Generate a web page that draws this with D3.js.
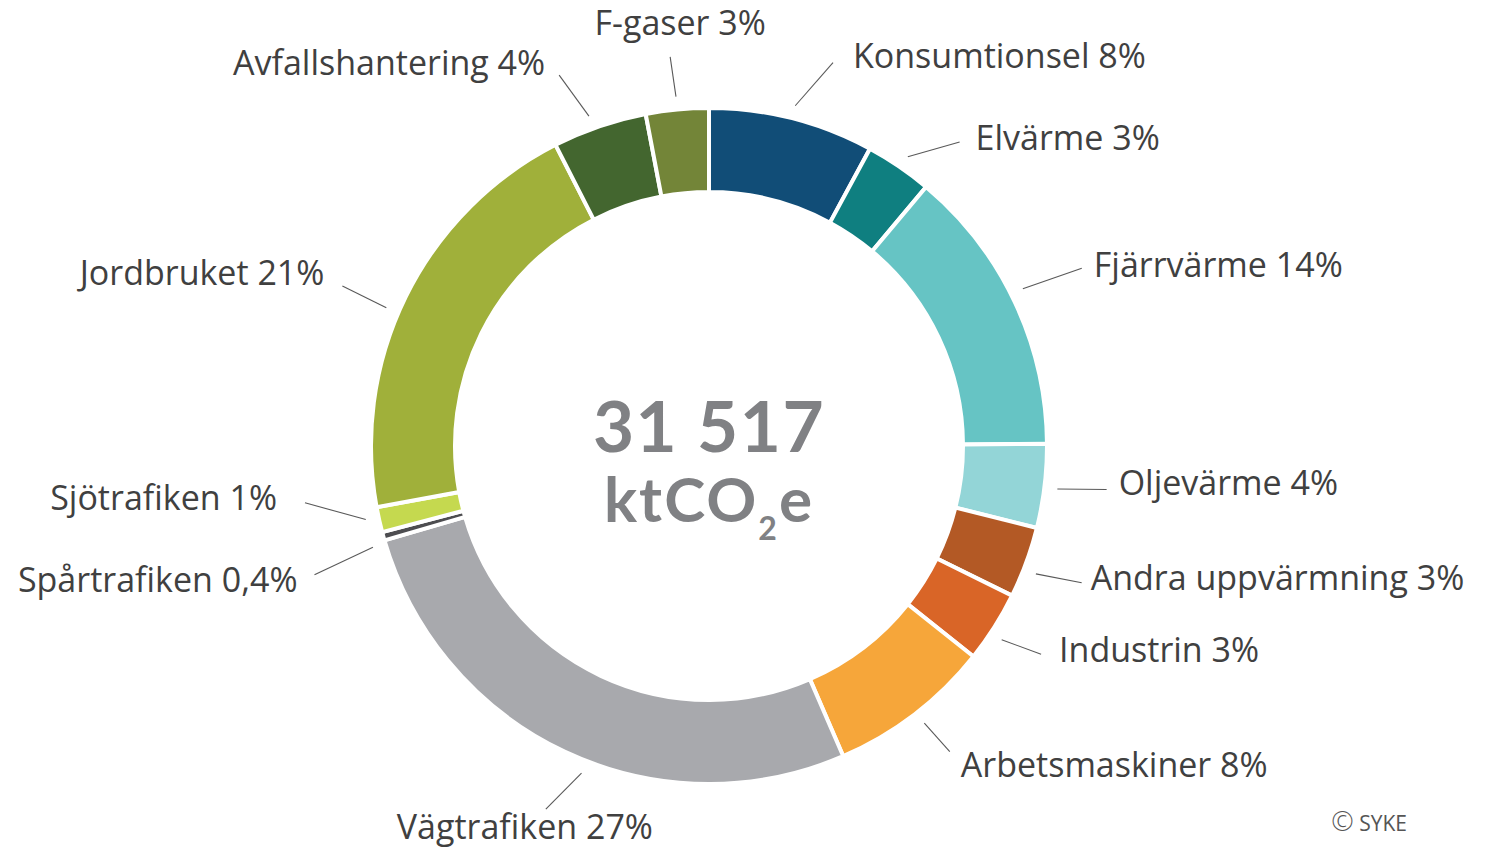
<!DOCTYPE html>
<html><head><meta charset="utf-8">
<script src="https://cdn.jsdelivr.net/npm/d3@7"></script>
<style>
html,body{margin:0;padding:0;background:#fff;}
svg{display:block;}
</style></head>
<body>
<svg id="chart" width="1487" height="848"></svg>
<script>
// ---- data ----
const categories = ["Konsumtionsel","Elvärme","Fjärrvärme","Oljevärme","Andra uppvärmning","Industrin","Arbetsmaskiner","Vägtrafiken","Spårtrafiken","Sjötrafiken","Jordbruket","Avfallshantering","F-gaser"];
const values = [7.9, 3.2, 13.8, 4.0, 3.4, 3.4, 7.8, 27.0, 0.4, 1.2, 20.4, 4.5, 3.0];
const percentLabels = ["8%","3%","14%","4%","3%","3%","8%","27%","0,4%","1%","21%","4%","3%"];
const colors = ["#114d77","#0f7f80","#66c4c4","#93d5d7","#b35925","#d96527","#f6a63a","#a8a9ad","#4d4d50","#c5d94f","#a0b03a","#43662f","#738538"];
const totalLabel = "31 517";
const unitMain = "ktCO", unitSub = "2", unitEnd = "e";

// ---- label layout (leader start/end angle nudges in degrees, end radius, text dx, baseline dy, anchor) ----
const leaderStartNudge = [0, 0.3, -1.4, 0.2, 1.2, 1.1, -0.4, -3.9, -1.3, 0.5, -3.1, -1.1, 0];
const leaderEndNudge   = [3.7, 5.3, -0.3, -0.6, 0, -0.3, -0.8, -1.0, -2.6, 4.6, -2.7, -3.1, -0.3];
const leaderEndR       = [403, 394, 413, 400, 397, 392, 389, 398, 415, 408, 400, 400, 391];
const labelDx          = [20, 16, 12, 12, 9, 18, 11, -21, -17, -28, -18, -14, 10];
const labelDy          = [5, 8, 9, 6, 7, 8, 25, 30, 17, 7, -1, 0, -22];
const labelAnchor      = ["start","start","start","start","start","start","start","middle","end","end","end","end","middle"];

const svg = d3.select("#chart");
const cx = 709, cy = 446, rIn = 254, rOut = 338, rLeader = 351;
const g = svg.append("g").attr("transform", `translate(${cx},${cy})`);

const pie = d3.pie().sort(null).value(d => d);
const arcs = pie(values);
const arc = d3.arc().innerRadius(rIn).outerRadius(rOut);

g.selectAll("path.slice").data(arcs).join("path")
  .attr("class","slice")
  .attr("d", arc)
  .attr("fill", (d,i) => colors[i])
  .attr("stroke", "#fff")
  .attr("stroke-width", 4)
  .attr("stroke-linejoin","miter");

const fs = 34;
const rad = Math.PI / 180;
const pt = (a, r) => [Math.sin(a) * r, -Math.cos(a) * r];
arcs.forEach((d, i) => {
  const mid = (d.startAngle + d.endAngle) / 2;
  const s = pt(mid + leaderStartNudge[i] * rad, rLeader);
  const e = pt(mid + leaderEndNudge[i] * rad, leaderEndR[i]);
  g.append("line")
    .attr("x1", s[0]).attr("y1", s[1]).attr("x2", e[0]).attr("y2", e[1])
    .attr("stroke", "#595959").attr("stroke-width", 1.1);
  g.append("text")
    .attr("x", e[0] + labelDx[i]).attr("y", e[1] + labelDy[i])
    .attr("text-anchor", labelAnchor[i])
    .attr("font-family", "'Open Sans', sans-serif")
    .attr("font-size", fs)
    .attr("fill", "#404040")
    .text(categories[i] + " " + percentLabels[i]);
});

// centre text
g.append("text").attr("x", 0).attr("y", 6)
  .attr("text-anchor","middle")
  .attr("font-family","Lato, sans-serif").attr("font-weight", 700)
  .attr("font-size", 71).attr("letter-spacing", 1.5).attr("fill","#808184")
  .text(totalLabel);
const u = g.append("text").attr("x", 0).attr("y", 76)
  .attr("text-anchor","middle")
  .attr("font-family","Lato, sans-serif").attr("font-weight", 700)
  .attr("font-size", 62).attr("letter-spacing", 2).attr("fill","#808184");
u.append("tspan").text(unitMain);
u.append("tspan").attr("font-size", 32).attr("dy", 18).text(unitSub);
u.append("tspan").attr("dy", -18).text(unitEnd);

// credit
const c = svg.append("text").attr("x", 1407).attr("y", 831)
  .attr("text-anchor","end")
  .attr("font-family","'Open Sans', sans-serif")
  .attr("font-size", 21).attr("fill","#555");
c.append("tspan").attr("font-size", 27).attr("font-weight", 300).text("©");
c.append("tspan").text(" SYKE");
</script>
</body></html>
